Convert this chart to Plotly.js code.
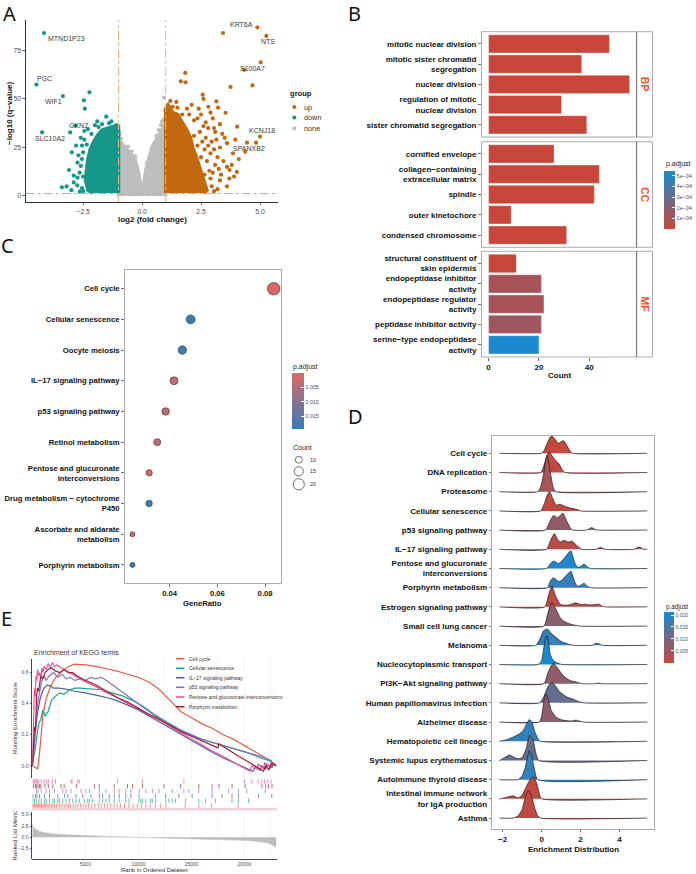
<!DOCTYPE html>
<html>
<head>
<meta charset="utf-8">
<script src="https://cdn.plot.ly/plotly-3.0.1.min.js"></script>
<style>
  html, body { margin: 0; padding: 0; background: #ffffff; }
  #fig { width: 696px; height: 874px; }
</style>
</head>
<body>
<div id="fig"></div>
<script>
// ================= A: volcano plot =================
const fcCutoff = 1;      // |log2 FC| threshold
const qCutoff = 1.3;     // -log10(0.05)

// dense, non-significant cloud (outline of the packed grey points)
const noneCoreX = [-1, -1, -0.85, -0.65, -0.45, -0.3, -0.15, -0.05, 0, 0.05, 0.15, 0.3, 0.45, 0.6, 0.75, 0.9, 1, 1];
const noneCoreY = [0, 29, 27, 24, 21.5, 19, 12, 4, 1, 4, 13, 20, 26, 29, 32.5, 35.5, 37, 0];
const nonePtsX = [0.93, 0.85, 0.95, -0.95, -0.9, -0.6, 0.6, 0.7, 0.8, -0.3, 0.2, -0.45, 0.4, 0.97, -0.98];
const nonePtsY = [50.7, 38.5, 40, 31.5, 29.5, 25.5, 31, 34, 36.5, 20.5, 17, 23, 24.5, 44, 33];

// down-regulated genes
const downCoreX = [-1, -1, -1.2, -1.45, -1.7, -1.9, -2.05, -2.2, -2.3, -2.35, -2.4, -2.3, -2.1];
const downCoreY = [1.5, 36, 36, 35, 34, 31, 28, 24, 19, 14, 8, 3, 1.5];
const downPtsX = [-2.23, -2.47, -2.43, -1.52, -1.1, -3.05, -2.98, -2.74, -3.1, -2.74, -2.9, -3.2, -3.0, -2.6, -2.55, -2.6, -2.45, -2.3, -2.0, -1.7, -1.3, -2.8, -2.7, -2.65, -2.9, -3.4, -2.55, -2.5, -2.45, -2.15, -1.85, -1.4, -2.55, -2.5, -2.75, -2.65, -2.35, -2.5, -1.9];
const downPtsY = [53.4, 49.3, 45, 40.9, 36.5, 32.8, 22.5, 17.2, 13.4, 9.5, 7, 5, 3, 15.5, 26, 30, 33.5, 34.5, 36.5, 37, 38.5, 26, 21, 12, 10.5, 4.5, 4, 2.5, 29, 32, 35.5, 37.5, 19, 10, 5.5, 2.2, 26.5, 22.5, 38.5];

// up-regulated genes
const upCoreX = [1, 1, 1.1, 1.3, 1.5, 1.7, 1.9, 2.05, 2.15, 2.3, 2.45, 2.6, 2.75, 2.6];
const upCoreY = [1.5, 45, 47, 43, 42, 38, 34, 30, 25, 20, 14, 8, 3, 1.5];
const upPtsX = [3.43, 4.33, 4.68, 3.75, 1.83, 1.64, 1.84, 2.57, 3.15, 2.81, 3.22, 3.54, 4.03, 3.6, 3.71, 4.02, 4.37, 2.6, 1.2, 1.45, 2.1, 2.9, 3.0, 2.5, 2.7, 3.3, 2.35, 3.1, 2.8, 3.5, 3.3, 2.95, 3.2, 3.45, 3.6, 3.8, 3.9, 3.0, 3.3, 3.6, 3.2, 2.9, 3.4, 2.6, 3.85, 4.1, 3.7, 2.4, 1.9, 2.2, 2.0, 3.95, 3.1, 3.35, 2.45, 2.55, 2.65, 2.75, 2.85, 2.9, 2.95, 2.5, 2.35, 2.2, 2.7, 2.8, 3.05, 3.15, 2.65, 3.05, 2.4, 1.7, 1.5, 1.3, 4.45, 3.05, 3.25];
const upPtsY = [84, 65, 57, 56.2, 63.4, 59.1, 58.6, 52.2, 48.8, 46, 45.5, 42.9, 35.7, 27.2, 13.4, 12.4, 22.8, 50, 49, 48.5, 47, 43, 40, 42, 38, 37, 40, 33, 35, 30, 25, 28, 20, 18, 15, 16, 10, 12, 8, 5, 3.5, 22, 32, 36, 22, 19, 9, 45, 45, 39, 42, 29, 16, 11, 33, 28, 24, 18, 13, 9, 5, 20, 26, 31, 30, 26, 24, 29, 11, 2.5, 4, 42, 45.5, 46, 27.5, 35, 14];

// labelled genes
const geneNames = ['MTND1P23', 'PGC', 'WIF1', 'GKN2', 'SLC10A2', 'KRT6A', 'NTS', 'S100A7', 'KCNJ18', 'SPANXB2'];
const geneX = [-4.16, -4.48, -3.36, -2.82, -4.24, 4.89, 5.27, 5.03, 5.0, 4.83];
const geneY = [84.0, 57.4, 51.5, 36.2, 32.8, 86.9, 82.5, 68.9, 30.6, 27.5];
const geneGroup = ['down', 'down', 'down', 'down', 'down', 'up', 'up', 'up', 'up', 'up'];

// ================= B: GO enrichment bars =================
const goTerms = [
  'mitotic nuclear division', 'mitotic sister chromatid<br>segregation', 'nuclear division',
  'regulation of mitotic<br>nuclear division', 'sister chromatid segregation',
  'cornified envelope', 'collagen−containing<br>extracellular matrix', 'spindle',
  'outer kinetochore', 'condensed chromosome',
  'structural constituent of<br>skin epidermis', 'endopeptidase inhibitor<br>activity',
  'endopeptidase regulator<br>activity', 'peptidase inhibitor activity',
  'serine−type endopeptidase<br>activity'
];
const goOntology = ['BP', 'BP', 'BP', 'BP', 'BP', 'CC', 'CC', 'CC', 'CC', 'CC', 'MF', 'MF', 'MF', 'MF', 'MF'];
const goCount = [48, 37, 56, 29, 39, 26, 44, 42, 9, 31, 11, 21, 22, 21, 20];
const goPadj = [2.1e-20, 6.5e-17, 3.4e-19, 1.2e-14, 8.8e-18, 4.1e-9, 2.2e-10, 5.6e-13, 1.3e-7, 3.0e-11, 3.4e-6, 1.05e-4, 1.0e-4, 1.3e-4, 5.4e-4];
const goPadjTicks = [1e-4, 2e-4, 3e-4, 4e-4, 5e-4];
const goPadjTickText = ['1e−04', '2e−04', '3e−04', '4e−04', '5e−04'];

// ================= C: KEGG dot plot =================
const keggTerms = [
  'Cell cycle', 'Cellular senescence', 'Oocyte meiosis', 'IL−17 signaling pathway',
  'p53 signaling pathway', 'Retinol metabolism', 'Pentose and glucuronate<br>interconversions',
  'Drug metabolism − cytochrome<br>P450', 'Ascorbate and aldarate<br>metabolism', 'Porphyrin metabolism'
];
const keggGeneRatio = [0.0836, 0.0488, 0.0453, 0.0418, 0.0383, 0.0348, 0.0314, 0.0314, 0.0244, 0.0244];
const keggCount = [24, 14, 13, 12, 11, 10, 9, 9, 7, 7];
const keggPadj = [0.0002, 0.0190, 0.0185, 0.0030, 0.0028, 0.0032, 0.0012, 0.0182, 0.0030, 0.0195];
const countLegend = [10, 15, 20];

// ================= D: GSEA ridge plot =================
const ridgeTerms = [
  'Cell cycle', 'DNA replication', 'Proteasome', 'Cellular senescence', 'p53 signaling pathway',
  'IL−17 signaling pathway', 'Pentose and glucuronate<br>interconversions', 'Porphyrin metabolism',
  'Estrogen signaling pathway', 'Small cell lung cancer', 'Melanoma', 'Nucleocytoplasmic transport',
  'PI3K−Akt signaling pathway', 'Human papillomavirus infection', 'Alzheimer disease',
  'Hematopoietic cell lineage', 'Systemic lupus erythematosus', 'Autoimmune thyroid disease',
  'Intestinal immune network<br>for IgA production', 'Asthma'
];
const ridgePadj = [0.0003, 0.001, 0.004, 0.0008, 0.0065, 0.002, 0.0212, 0.0185, 0.0012, 0.0075, 0.018, 0.0214, 0.007, 0.0125, 0.007, 0.0185, 0.0125, 0.0185, 0.0008, 0.001];
const densityFrom = -2.17;
const densityTo = 5.43;
const ridgeX = [
  [-0.02, 0.12, 0.3, 0.45, 0.53, 0.7, 0.87, 1.0, 1.12, 1.3, 1.45, 1.6],
  [-0.05, 0.1, 0.25, 0.39, 0.55, 0.75, 0.9, 1.05, 1.2],
  [-0.2, -0.05, 0.1, 0.2, 0.27, 0.35, 0.45, 0.6, 0.72],
  [-0.05, 0.15, 0.3, 0.41, 0.55, 0.75, 0.95, 1.15, 1.5, 1.8, 2.0],
  [0.2, 0.4, 0.61, 0.8, 0.95, 1.09, 1.3, 1.55, 2.3, 2.45, 2.57, 2.75, 2.9],
  [0.25, 0.45, 0.66, 0.8, 0.95, 1.17, 1.35, 1.58, 1.8, 2.06, 2.8, 3.03, 3.25, 4.75, 5.0, 5.25],
  [0.25, 0.45, 0.61, 0.87, 1.1, 1.3, 1.5, 1.7, 1.85, 2.0, 2.18, 2.35, 2.5],
  [0.3, 0.45, 0.61, 0.9, 1.1, 1.3, 1.51, 1.7, 1.85, 2.0, 2.18, 2.35, 2.5],
  [0.17, 0.35, 0.53, 0.7, 0.95, 1.2, 1.5, 1.75, 2.0, 2.25, 2.5, 2.75, 2.94, 3.1, 3.25],
  [0.12, 0.3, 0.45, 0.53, 0.7, 0.95, 1.1, 1.35, 1.6, 1.95],
  [-0.3, -0.1, 0.1, 0.3, 0.5, 0.75, 1.0, 1.3, 1.6, 2.6, 2.8, 2.95, 3.1],
  [-0.17, 0.0, 0.12, 0.22, 0.27, 0.35, 0.45, 0.6, 0.8, 1.05],
  [0.12, 0.3, 0.5, 0.61, 0.8, 1.0, 1.25, 1.5, 1.8, 2.06, 2.75, 2.9, 3.05],
  [-0.1, 0.1, 0.35, 0.53, 0.7, 0.9, 1.3, 1.6, 1.9, 2.15],
  [-0.12, 0.0, 0.12, 0.24, 0.35, 0.5, 0.75, 1.0, 1.3, 1.55, 1.77, 1.95, 2.15],
  [-2.16, -1.8, -1.5, -1.2, -0.95, -0.8, -0.63, -0.5, -0.35, -0.2, -0.07],
  [-2.16, -1.9, -1.65, -1.4, -1.2, -1.0, -0.8, -0.61, -0.45, -0.3, -0.15],
  [-1.2, -1.0, -0.85, -0.72, -0.63, -0.5, -0.35, -0.2],
  [-2.1, -1.8, -1.48, -1.2, -1.0, -0.8, -0.6, -0.41, -0.25, -0.1, 0.0],
  [-1.45, -1.2, -1.0, -0.85, -0.68, -0.5, -0.35, -0.2, -0.05]
];
const ridgeH = [
  [0, 0.12, 0.55, 0.85, 0.9, 0.72, 0.52, 0.6, 0.66, 0.4, 0.12, 0],
  [0, 0.3, 0.8, 1.08, 0.85, 0.6, 0.45, 0.15, 0],
  [0, 0.25, 0.9, 1.6, 1.89, 1.6, 1.0, 0.2, 0],
  [0, 0.4, 0.85, 1.0, 0.7, 0.3, 0.35, 0.25, 0.14, 0.08, 0],
  [0, 0.4, 0.76, 0.64, 0.75, 0.89, 0.45, 0.02, 0, 0.06, 0.13, 0.03, 0],
  [0, 0.45, 0.82, 0.55, 0.38, 0.47, 0.38, 0.42, 0.2, 0, 0, 0.1, 0, 0, 0.12, 0],
  [0, 0.25, 0.38, 0.26, 0.45, 0.7, 0.92, 0.3, 0.06, 0.1, 0.23, 0.08, 0],
  [0, 0.35, 0.52, 0.31, 0.45, 0.68, 0.85, 0.3, 0.06, 0.12, 0.23, 0.08, 0],
  [0, 0.6, 1.09, 0.6, 0.14, 0.08, 0.12, 0.21, 0.12, 0.14, 0.1, 0.12, 0.14, 0.05, 0],
  [0, 0.6, 1.1, 1.22, 0.95, 0.45, 0.28, 0.15, 0.07, 0],
  [0, 0.3, 0.75, 0.85, 0.62, 0.4, 0.2, 0.08, 0, 0, 0.1, 0.08, 0],
  [0, 0.2, 0.9, 1.4, 1.5, 1.2, 0.5, 0.2, 0.08, 0],
  [0, 0.5, 0.95, 1.04, 0.85, 0.55, 0.3, 0.15, 0.08, 0, 0, 0.03, 0],
  [0, 0.3, 0.9, 1.06, 0.9, 0.6, 0.3, 0.2, 0.07, 0],
  [0, 0.3, 1.1, 1.46, 1.15, 0.6, 0.25, 0.12, 0.07, 0.06, 0.1, 0.05, 0],
  [0, 0.08, 0.2, 0.35, 0.55, 0.85, 1.13, 1.0, 0.5, 0.15, 0],
  [0, 0.15, 0.28, 0.15, 0.09, 0.15, 0.6, 1.3, 1.1, 0.4, 0],
  [0, 0.2, 0.6, 1.2, 1.51, 1.2, 0.45, 0],
  [0, 0.08, 0.16, 0.05, 0.2, 0.6, 1.0, 1.15, 0.8, 0.2, 0],
  [0, 0.12, 0.45, 1.05, 1.42, 1.1, 0.5, 0.12, 0]
];

// ================= E: GSEA running enrichment =================
const gseaSets = ['Cell cycle', 'Cellular senescence', 'IL−17 signaling pathway', 'p53 signaling pathway', 'Pentose and glucuronate interconversions', 'Porphyrin metabolism'];

const esCellCycleRank = [0, 300, 500, 650, 800, 1000, 1300, 1700, 2200, 2800, 3400, 4000, 5000, 6000, 7000, 8000, 9000, 10000, 11000, 12000, 13000, 14000, 15000, 16000, 17000, 18000, 19000, 20000, 21000, 22000, 22700, 23000];
const esCellCycleScore = [0, -0.01, -0.02, 0.06, 0.2, 0.33, 0.43, 0.51, 0.57, 0.61, 0.64, 0.655, 0.65, 0.64, 0.625, 0.61, 0.59, 0.57, 0.54, 0.49, 0.42, 0.35, 0.31, 0.27, 0.24, 0.2, 0.17, 0.13, 0.095, 0.05, 0.02, 0.0];
const esSenescenceRank = [0, 150, 300, 450, 600, 800, 1000, 1200, 1500, 1800, 2200, 2600, 3000, 3500, 4000, 4500, 5500, 6500, 7500, 8500, 9500, 10500, 11500, 12500, 13500, 14500, 15500, 16500, 17500, 18500, 19500, 20500, 21500, 22000, 22500];
const esSenescenceScore = [0, 0.05, 0.12, 0.2, 0.27, 0.3, 0.36, 0.32, 0.35, 0.42, 0.45, 0.47, 0.46, 0.49, 0.5, 0.5, 0.495, 0.49, 0.47, 0.45, 0.42, 0.38, 0.33, 0.29, 0.25, 0.21, 0.18, 0.16, 0.14, 0.12, 0.1, 0.08, 0.05, 0.04, 0.03];
const esIL17Rank = [0, 100, 250, 400, 550, 700, 900, 1100, 1400, 1700, 2000, 2500, 3000, 3500, 4000, 5000, 6000, 7000, 8000, 9000, 10000, 11000, 12000, 13000, 14000, 15000, 16000, 17000, 18000, 19000, 20000, 20800, 21000, 21500, 21600, 22000, 22100, 22600, 22700, 23000];
const esIL17Score = [0, 0.08, 0.18, 0.3, 0.36, 0.42, 0.47, 0.5, 0.52, 0.515, 0.5, 0.5, 0.495, 0.49, 0.48, 0.47, 0.455, 0.44, 0.42, 0.39, 0.36, 0.32, 0.28, 0.24, 0.2, 0.16, 0.12, 0.085, 0.05, 0.02, -0.01, -0.035, -0.01, -0.03, 0.0, -0.02, 0.01, -0.01, 0.01, 0.0];
const esP53Rank = [0, 150, 300, 500, 700, 900, 1100, 1300, 1600, 2000, 2400, 2800, 3200, 3600, 4000, 4500, 5000, 5500, 6000, 6500, 7000, 8000, 9000, 10000, 11000, 12000, 13000, 14000, 15000, 16000, 17000, 18000, 19000, 20000, 21000, 22000, 22600];
const esP53Score = [0, 0.1, 0.25, 0.4, 0.48, 0.55, 0.58, 0.55, 0.58, 0.6, 0.57, 0.59, 0.56, 0.57, 0.55, 0.56, 0.55, 0.57, 0.56, 0.57, 0.55, 0.5, 0.45, 0.4, 0.35, 0.3, 0.26, 0.23, 0.2, 0.17, 0.15, 0.13, 0.11, 0.09, 0.07, 0.05, 0.03];
const esPentoseRank = [0, 80, 150, 200, 280, 350, 420, 500, 600, 700, 800, 900, 1000, 1100, 1300, 1500, 1700, 1900, 2100, 2300, 3000, 4000, 5000, 6000, 7000, 8000, 9000, 10000, 11000, 12000, 13000, 14000, 15000, 16000, 17000, 18000, 19000, 20000, 20500, 20700, 21200, 21300, 21800, 21900, 22400, 22500, 23000];
const esPentoseScore = [0, 0.2, 0.35, 0.5, 0.45, 0.58, 0.55, 0.62, 0.58, 0.6, 0.56, 0.63, 0.6, 0.64, 0.62, 0.66, 0.63, 0.665, 0.64, 0.65, 0.62, 0.58, 0.54, 0.51, 0.47, 0.44, 0.4, 0.37, 0.33, 0.29, 0.25, 0.21, 0.17, 0.13, 0.095, 0.06, 0.02, -0.02, -0.035, 0.0, -0.02, 0.01, -0.02, 0.02, -0.01, 0.02, 0.0];
const esPorphyrinRank = [0, 100, 200, 300, 400, 500, 600, 800, 1000, 1200, 1500, 1800, 2200, 2600, 3000, 3400, 3800, 4200, 5000, 6000, 7000, 8000, 9000, 10000, 11000, 12000, 13000, 14000, 15000, 16000, 17000, 17500, 17600, 18500, 19500, 20500, 21500, 21800, 22000, 22300, 22600, 23000];
const esPorphyrinScore = [0, 0.1, 0.25, 0.22, 0.45, 0.5, 0.48, 0.58, 0.56, 0.6, 0.62, 0.63, 0.61, 0.6, 0.62, 0.6, 0.6, 0.58, 0.55, 0.52, 0.48, 0.44, 0.41, 0.37, 0.33, 0.3, 0.26, 0.22, 0.19, 0.16, 0.13, 0.115, 0.14, 0.1, 0.06, 0.02, -0.02, -0.035, 0.0, -0.025, 0.015, 0.0];

// positions of gene-set members in the ranked list
const hitsCellCycle = [60, 150, 250, 330, 420, 520, 610, 700, 800, 900, 1000, 1120, 1250, 1380, 1500, 1650, 1800, 1950, 2100, 2250, 2400, 2600, 2800, 3000, 3200, 3400, 3600, 3850, 4100, 4300, 4550, 4800, 5050, 5300, 5600, 5900, 6200, 6500, 6800, 7100, 7400, 7700, 8000, 8300, 8700, 9100, 9500, 9900, 10300, 10700, 11100, 11600, 12100, 12600, 14400, 15700, 16900, 19400];
const hitsSenescence = [60, 216, 373, 623, 842, 1154, 1311, 1624, 1936, 2093, 2405, 2562, 2874, 3187, 3500, 3812, 4125, 4438, 4907, 5220, 5376, 5689, 6314, 6627, 6939, 7252, 7721, 8190, 8816, 9128, 10066, 10223, 10379, 10692, 11161, 11317, 11630, 12568, 12881, 13193, 13506, 14444, 15695, 16320, 17259, 18822, 19447, 20385];
const hitsIL17 = [60, 310, 435, 685, 1154, 1624, 2405, 3031, 3343, 4125, 4751, 5532, 6314, 6627, 7252, 7721, 8190, 8816, 9285, 10066, 11630, 12568, 13819, 15070, 16946, 17884, 18822, 19447, 21323, 22575];
const hitsP53 = [373, 529, 842, 1311, 1624, 2093, 2874, 3187, 3656, 4594, 5063, 5376, 6314, 6939, 7721, 8190, 8816, 9285, 10066, 10692, 11317, 11943, 13193, 14288, 14757, 15695, 16946, 18510, 19447, 20229, 21949];
const hitsPentose = [80, 150, 216, 350, 420, 500, 622, 841, 1100, 1310, 1500, 1900, 2185, 3655, 3750, 4280, 4435, 8030, 10380, 14290, 20010, 20700, 21300, 21640, 21900, 22200, 22500];
const hitsPorphyrin = [100, 300, 372, 528, 684, 800, 1200, 1500, 1935, 2717, 3000, 4187, 5844, 6313, 7720, 8970, 9440, 10380, 12410, 13980, 15700, 16950, 17600, 18830, 20070, 21640, 22000, 22270, 22600];

// ranked list metric
const metricRank = [0, 100, 300, 600, 1000, 1500, 2000, 3000, 4000, 5000, 6000, 7000, 8000, 9000, 10000, 11000, 12000, 13000, 14000, 15000, 16000, 17000, 18000, 19000, 20000, 21000, 21500, 22000, 22400, 22700, 22900, 23000];
const metricValue = [3.0, 2.3, 1.8, 1.4, 1.1, 0.9, 0.75, 0.58, 0.45, 0.35, 0.27, 0.2, 0.13, 0.07, 0.02, -0.03, -0.08, -0.13, -0.18, -0.24, -0.3, -0.37, -0.45, -0.55, -0.66, -0.82, -0.95, -1.15, -1.4, -1.7, -2.0, -2.1];

// ================= drawing =================
const W = 696, H = 874;
const FONT = 'Liberation Sans, Arial, Helvetica, sans-serif';
const px = v => v / W;
const py = v => 1 - v / H;
const hdom = (l, r) => [px(l), px(r)];
const vdom = (t, b) => [py(b), py(t)];

const COL = { up: '#c2690f', down: '#15978a', none: '#bebebe' };
const RED_BD = '#c8473a', BLUE_BD = '#1a8acf';
const RED_C = '#e06663', BLUE_C = '#327eba';
const PANEL_LINE = '#a3a3a3';

function hex2rgb(h) { return [1, 3, 5].map(i => parseInt(h.slice(i, i + 2), 16)); }
function mix(a, b, t) {
  const A = hex2rgb(a), B = hex2rgb(b);
  return 'rgb(' + A.map((v, i) => Math.round(v + (B[i] - v) * t)).join(',') + ')';
}

const traces = [];
const shapes = [];
const annotations = [];

function note(text, x, y, o) {
  const a = { text: text, x: px(x), y: py(y), xref: 'paper', yref: 'paper', showarrow: false,
    xanchor: 'center', yanchor: 'middle', font: { family: FONT, size: 7, color: '#1a1a1a' } };
  return Object.assign(a, o || {});
}

// ---------- A ----------
function cloud(xs, ys, color) {
  traces.push({ type: 'scatter', mode: 'lines', x: xs, y: ys, fill: 'toself', fillcolor: color,
    line: { color: color, width: 3.5 }, xaxis: 'x', yaxis: 'y', hoverinfo: 'skip' });
}
function dots(xs, ys, color) {
  traces.push({ type: 'scatter', mode: 'markers', x: xs, y: ys, xaxis: 'x', yaxis: 'y',
    marker: { size: 4.2, color: color }, hoverinfo: 'skip' });
}
cloud(noneCoreX, noneCoreY, COL.none);
dots(nonePtsX, nonePtsY, COL.none);
cloud(downCoreX, downCoreY, COL.down);
dots(downPtsX, downPtsY, COL.down);
cloud(upCoreX, upCoreY, COL.up);
dots(upPtsX, upPtsY, COL.up);
dots(geneX, geneY, geneGroup.map(g => COL[g]));

// threshold lines
[-fcCutoff, fcCutoff].forEach(v => shapes.push({ type: 'line', xref: 'x', yref: 'y domain', x0: v, x1: v, y0: 0, y1: 1,
  line: { color: '#f6b26b', width: 1, dash: 'dashdot' } }));
shapes.push({ type: 'line', xref: 'x domain', yref: 'y', x0: 0, x1: 1, y0: qCutoff, y1: qCutoff,
  line: { color: '#f39a7c', width: 1, dash: 'dashdot' } });

// gene labels
const geneLabelStyle = {
  MTND1P23: { xanchor: 'left', xshift: 2, yshift: -5 },
  PGC: { xanchor: 'left', xshift: -1, yshift: 6 },
  WIF1: { xanchor: 'right', xshift: 1, yshift: -5 },
  GKN2: { xanchor: 'center', xshift: 3, yshift: 0 },
  SLC10A2: { xanchor: 'center', xshift: 8, yshift: -6 },
  KRT6A: { xanchor: 'right', xshift: -2, yshift: 3 },
  NTS: { xanchor: 'center', xshift: 2, yshift: -6 },
  S100A7: { xanchor: 'center', xshift: -8, yshift: -6 },
  KCNJ18: { xanchor: 'center', xshift: 2, yshift: 6 },
  SPANXB2: { xanchor: 'center', xshift: -7, yshift: -6 }
};
geneNames.forEach((g, i) => {
  const s = geneLabelStyle[g];
  annotations.push({ text: g, x: geneX[i], y: geneY[i], xref: 'x', yref: 'y', showarrow: false,
    xanchor: s.xanchor, yanchor: 'middle', xshift: s.xshift, yshift: s.yshift,
    font: { family: FONT, size: 7, color: '#3a3a3a' } });
});

// legend "group"
annotations.push(note('<b>group</b>', 290, 94, { xanchor: 'left', font: { family: FONT, size: 7.6, color: '#1a1a1a' } }));
['up', 'down', 'none'].forEach((g, k) => {
  const yy = [107, 117.5, 128.5][k];
  shapes.push({ type: 'circle', xref: 'paper', yref: 'paper', x0: px(293.9), x1: px(298.1), y0: py(yy + 2.1), y1: py(yy - 2.1),
    fillcolor: COL[g], line: { width: 0 } });
  annotations.push(note(g, 304, yy, { xanchor: 'left', font: { family: FONT, size: 7.3, color: '#333' } }));
});

// ---------- B ----------
const facets = ['BP', 'CC', 'MF'];
const facetBox = [{ t: 31.7, b: 137 }, { t: 141.7, b: 247.3 }, { t: 251.3, b: 357 }];
const bPlotL = 484.3, bPlotR = 640.3, bStripR = 656.3;
const facetY = ['y2', 'y3', 'y4'];
facets.forEach((ont, k) => {
  const idx = goOntology.map((o, i) => (o === ont ? i : -1)).filter(i => i >= 0);
  traces.push({ type: 'bar', orientation: 'h', x: idx.map(i => goCount[i]), y: idx.map(i => goTerms[i]),
    xaxis: 'x2', yaxis: facetY[k], width: 0.9,
    marker: { color: idx.map(i => goPadj[i]), coloraxis: 'coloraxis', line: { color: 'rgba(255,255,255,0.6)', width: 0.6 } },
    hoverinfo: 'skip' });
  const fb = facetBox[k];
  shapes.push({ type: 'rect', xref: 'paper', yref: 'paper', x0: px(bPlotL), x1: px(bStripR), y0: py(fb.b), y1: py(fb.t),
    line: { color: PANEL_LINE, width: 0.9 }, fillcolor: 'rgba(0,0,0,0)' });
  shapes.push({ type: 'line', xref: 'paper', yref: 'paper', x0: px(bPlotR), x1: px(bPlotR), y0: py(fb.b), y1: py(fb.t),
    line: { color: '#555', width: 0.9 } });
  annotations.push(note('<b>' + ont + '</b>', 648.3, (fb.t + fb.b) / 2,
    { textangle: 90, font: { family: FONT, size: 10.5, color: '#f4511e' } }));
});

// ---------- C ----------
const cMin = Math.min(...keggCount), cMax = Math.max(...keggCount);
function sizeScale(c) {
  const t = (c - cMin) / (cMax - cMin);
  return Math.sqrt(5 * 5 + t * (12.5 * 12.5 - 5 * 5));
}
traces.push({ type: 'scatter', mode: 'markers', x: keggGeneRatio, y: keggTerms, xaxis: 'x3', yaxis: 'y5',
  marker: { size: keggCount.map(sizeScale), color: keggPadj.map(v => -v), coloraxis: 'coloraxis2',
    line: { color: '#2b2b2b', width: 0.6 }, opacity: 1 },
  hoverinfo: 'skip' });
annotations.push(note('Count', 293, 447.3, { xanchor: 'left', font: { family: FONT, size: 7, color: '#1a1a1a' } }));
countLegend.forEach((c, k) => {
  const yy = [459.7, 471.3, 484.3][k];
  const d = sizeScale(c);
  shapes.push({ type: 'circle', xref: 'paper', yref: 'paper', x0: px(300.5 - d / 2), x1: px(300.5 + d / 2),
    y0: py(yy + d / 2), y1: py(yy - d / 2), line: { color: '#333', width: 0.7 }, fillcolor: 'rgba(0,0,0,0)' });
  annotations.push(note(String(c), 310, yy, { xanchor: 'left', font: { family: FONT, size: 5.5, color: '#333' } }));
});

// ---------- D ----------
const nR = ridgeTerms.length;
const padjMax = 0.0214, padjMin = 0.00004;
const ridgeColor = p => mix(RED_BD, BLUE_BD, (p - padjMin) / (padjMax - padjMin));
ridgeTerms.forEach((term, i) => {
  const base = nR - i;
  const xs = [densityFrom].concat(ridgeX[i], [densityTo]);
  const ys = [0].concat(ridgeH[i], [0]).map(h => base + h);
  traces.push({ type: 'scatter', mode: 'lines', x: xs, y: ys, xaxis: 'x4', yaxis: 'y6',
    fill: 'toself', fillcolor: ridgeColor(ridgePadj[i]),
    line: { color: '#1a1a1a', width: 0.7, shape: 'spline', smoothing: 0.5 }, hoverinfo: 'skip' });
});
// carries the p.adjust colour scale for the ridges
traces.push({ type: 'scatter', mode: 'markers', x: [densityFrom], y: [nR], xaxis: 'x4', yaxis: 'y6',
  marker: { size: 1, opacity: 0, color: [ridgePadj[0]], coloraxis: 'coloraxis3' }, hoverinfo: 'skip' });

// ---------- E ----------
const gseaColors = ['#ee5a3f', '#1ba689', '#4e5fa6', '#7f70cb', '#f0519c', '#a4202e'];
const esRanks = [esCellCycleRank, esSenescenceRank, esIL17Rank, esP53Rank, esPentoseRank, esPorphyrinRank];
const esScores = [esCellCycleScore, esSenescenceScore, esIL17Score, esP53Score, esPentoseScore, esPorphyrinScore];
const hits = [hitsCellCycle, hitsSenescence, hitsIL17, hitsP53, hitsPentose, hitsPorphyrin];
const hitRow = [0, 1, 2, 3, 5, 4];

gseaSets.forEach((s, i) => {
  traces.push({ type: 'scatter', mode: 'lines', x: esRanks[i], y: esScores[i], xaxis: 'x5', yaxis: 'y7',
    line: { color: gseaColors[i], width: 1.2 }, hoverinfo: 'skip' });
  const hx = [], hy = [];
  hits[i].forEach(r => { hx.push(r, r, null); hy.push(hitRow[i] - 0.45, hitRow[i] + 0.45, null); });
  traces.push({ type: 'scatter', mode: 'lines', x: hx, y: hy, xaxis: 'x6', yaxis: 'y8',
    line: { color: gseaColors[i], width: 0.9 }, opacity: 0.75, hoverinfo: 'skip' });
  // legend
  const ly = [658.7, 668.3, 677.7, 687.3, 697, 706.7][i];
  shapes.push({ type: 'line', xref: 'paper', yref: 'paper', x0: px(177), x1: px(185.5), y0: py(ly), y1: py(ly),
    line: { color: gseaColors[i], width: 1.6 } });
  annotations.push(note(s, 188.5, ly, { xanchor: 'left', font: { family: FONT, size: 5, color: '#333' } }));
});
traces.push({ type: 'scatter', mode: 'lines', x: metricRank, y: metricValue, xaxis: 'x7', yaxis: 'y9',
  fill: 'tozeroy', fillcolor: '#bdbdbd', line: { color: '#b3b3b3', width: 0.5 }, hoverinfo: 'skip' });
shapes.push({ type: 'rect', xref: 'paper', yref: 'paper', x0: px(32.5), x1: px(278.3), y0: py(810.3), y1: py(808.2),
  fillcolor: '#f7c3d7', line: { width: 0 } });

// ---------- titles & panel letters ----------
const letter = { family: 'Noto Sans, DejaVu Sans, sans-serif', size: 20, color: '#111' };
annotations.push(note('A', 10, 13, { font: letter }));
annotations.push(note('B', 357, 13, { font: letter }));
annotations.push(note('C', 7.5, 246, { font: letter }));
annotations.push(note('D', 358, 416, { font: letter }));
annotations.push(note('E', 6.5, 618, { font: letter }));

const bold8 = { family: FONT, size: 8, color: '#111' };
annotations.push(note('<b>−log10 (q−value)</b>', 10, 113, { textangle: -90, font: bold8 }));
annotations.push(note('<b>log2 (fold change)</b>', 153, 219, { font: bold8 }));
annotations.push(note('<b>Count</b>', 563, 375, { font: bold8 }));
annotations.push(note('<b>GeneRatio</b>', 204, 603, { font: { family: FONT, size: 7.7, color: '#111' } }));
annotations.push(note('<b>Enrichment Distribution</b>', 576.7, 849.5, { font: bold8 }));
annotations.push(note('p.adjust', 668, 163.5, { xanchor: 'left', font: { family: FONT, size: 7, color: '#1a1a1a' } }));
annotations.push(note('p.adjust', 293, 366.7, { xanchor: 'left', font: { family: FONT, size: 7, color: '#1a1a1a' } }));
annotations.push(note('p.adjust', 668, 606.7, { xanchor: 'left', font: { family: FONT, size: 6.3, color: '#1a1a1a' } }));
annotations.push(note('Enrichment of KEGG terms', 32, 652, { xanchor: 'left', font: { family: FONT, size: 7, color: '#333' } }));
annotations.push(note('Running Enrichment Score', 15, 718, { textangle: -90, font: { family: FONT, size: 6, color: '#333' } }));
annotations.push(note('Ranked List Metric', 15, 835.5, { textangle: -90, font: { family: FONT, size: 6, color: '#333' } }));
annotations.push(note('Rank in Ordered Dataset', 155, 870.3, { font: { family: FONT, size: 6, color: '#333' } }));

// ---------- axes ----------
const ax = {
  showgrid: false, zeroline: false, fixedrange: true, showline: false, automargin: false,
  ticks: 'outside', ticklen: 2.5, tickwidth: 0.7, tickcolor: '#333'
};
const greyTick = { family: FONT, size: 6.8, color: '#4d4d4d' };
const boldTick = { family: FONT, size: 8, color: '#111', weight: 'bold' };
const tinyTick = { family: FONT, size: 5, color: '#4d4d4d' };
const gseaGrid = [2500, 5000, 7500, 10000, 12500, 15000, 17500, 20000, 22500];
const gseaGridText = ['', '5000', '', '10000', '', '15000', '', '20000', ''];
const gseaX = {
  ...ax, domain: hdom(32.5, 278.3), range: [0, 23040], tickmode: 'array', tickvals: gseaGrid,
  showgrid: true, gridcolor: '#ececec', gridwidth: 0.6, ticks: ''
};

const layout = {
  width: W, height: H, margin: { l: 0, r: 0, t: 0, b: 0, pad: 0 },
  paper_bgcolor: '#ffffff', plot_bgcolor: 'rgba(0,0,0,0)', showlegend: false,
  font: { family: FONT, color: '#1a1a1a' },
  bargap: 0,
  // A
  xaxis: { ...ax, domain: hdom(26, 280), range: [-4.93, 5.78], anchor: 'y', tickmode: 'array',
    tickvals: [-2.5, 0, 2.5, 5], ticktext: ['−2.5', '0.0', '2.5', '5.0'], tickfont: greyTick,
    showline: true, linecolor: '#1a1a1a', linewidth: 0.9 },
  yaxis: { ...ax, domain: vdom(20, 202), range: [-3.1, 90.7], anchor: 'x', tickmode: 'array',
    tickvals: [0, 25, 50, 75], ticktext: ['0', '25', '50', '75'], tickfont: greyTick,
    showline: true, linecolor: '#1a1a1a', linewidth: 0.9 },
  // B
  xaxis2: { ...ax, domain: hdom(bPlotL, bPlotR), range: [-2.8, 58.8], anchor: 'y4', tickmode: 'array',
    tickvals: [0, 20, 40], ticktext: ['0', '20', '40'], tickfont: boldTick },
  yaxis2: { ...ax, domain: vdom(facetBox[0].t, facetBox[0].b), anchor: 'x2', type: 'category',
    categoryorder: 'array', categoryarray: goTerms.slice(0, 5), range: [4.6, -0.6], tickfont: boldTick },
  yaxis3: { ...ax, domain: vdom(facetBox[1].t, facetBox[1].b), anchor: 'x2', type: 'category',
    categoryorder: 'array', categoryarray: goTerms.slice(5, 10), range: [4.6, -0.6], tickfont: boldTick },
  yaxis4: { ...ax, domain: vdom(facetBox[2].t, facetBox[2].b), anchor: 'x2', type: 'category',
    categoryorder: 'array', categoryarray: goTerms.slice(10, 15), range: [4.6, -0.6], tickfont: boldTick },
  // C
  xaxis3: { ...ax, domain: hdom(125.3, 282.7), range: [0.0211, 0.0867], anchor: 'y5', tickmode: 'array',
    tickvals: [0.04, 0.06, 0.08], ticktext: ['0.04', '0.06', '0.08'],
    tickfont: { ...boldTick, size: 7.7 }, showline: true, mirror: true, linecolor: PANEL_LINE, linewidth: 0.9 },
  yaxis5: { ...ax, domain: vdom(270.3, 583.3), anchor: 'x3', type: 'category', categoryorder: 'array',
    categoryarray: keggTerms, range: [9.6, -0.6], tickfont: { ...boldTick, size: 7.7 },
    showline: true, mirror: true, linecolor: PANEL_LINE, linewidth: 0.9 },
  // D
  xaxis4: { ...ax, domain: hdom(495, 658.3), range: [-2.54, 5.8], anchor: 'y6', tickmode: 'array',
    tickvals: [-2, 0, 2, 4], ticktext: ['−2', '0', '2', '4'], tickfont: boldTick,
    showline: true, mirror: true, linecolor: PANEL_LINE, linewidth: 0.9 },
  yaxis6: { ...ax, domain: vdom(436, 829), range: [0.43, 20.9], anchor: 'x4', tickmode: 'array',
    tickvals: ridgeTerms.map((t, i) => nR - i), ticktext: ridgeTerms, tickfont: boldTick,
    showline: true, mirror: true, linecolor: PANEL_LINE, linewidth: 0.9 },
  // E
  xaxis5: { ...gseaX, anchor: 'y7', showticklabels: false },
  yaxis7: { ...ax, domain: vdom(659, 777.7), range: [-0.077, 0.688], anchor: 'x5', tickmode: 'array',
    tickvals: [0, 0.2, 0.4, 0.6], ticktext: ['0.0', '0.2', '0.4', '0.6'], tickfont: tinyTick, ticklen: 2,
    showline: true, linecolor: '#1a1a1a', linewidth: 0.8 },
  xaxis6: { ...ax, domain: hdom(32.5, 278.3), range: [0, 23040], anchor: 'y8', visible: false },
  yaxis8: { ...ax, domain: vdom(779, 808), range: [-0.5, 5.5], anchor: 'x6', visible: false },
  xaxis7: { ...gseaX, anchor: 'y9', ticktext: gseaGridText, tickfont: tinyTick,
    showline: true, linecolor: '#1a1a1a', linewidth: 0.8 },
  yaxis9: { ...ax, domain: vdom(811.7, 859), range: [-4.77, 5.66], anchor: 'x7', tickmode: 'array',
    tickvals: [-2.5, 0, 2.5, 5], ticktext: ['−2.5', '0.0', '2.5', '5.0'], tickfont: tinyTick, ticklen: 2,
    showline: true, linecolor: '#1a1a1a', linewidth: 0.8 },
  // colour scales
  coloraxis: {
    colorscale: [[0, RED_BD], [1, BLUE_BD]], cmin: 0, cmax: 5.45e-4,
    colorbar: { x: px(668), xanchor: 'left', y: py(171), yanchor: 'top', len: 58, lenmode: 'pixels',
      thickness: 11, thicknessmode: 'pixels', xpad: 0, ypad: 0, outlinewidth: 0,
      tickmode: 'array', tickvals: goPadjTicks, ticktext: goPadjTickText, ticks: 'inside', ticklen: 3,
      tickcolor: '#ffffff', tickfont: { family: FONT, size: 5.5, color: '#4d4d4d' } }
  },
  coloraxis2: {
    colorscale: [[0, BLUE_C], [1, RED_C]], cmin: -0.0195, cmax: -0.0002,
    colorbar: { x: px(293.3), xanchor: 'left', y: py(373.3), yanchor: 'top', len: 56, lenmode: 'pixels',
      thickness: 11.7, thicknessmode: 'pixels', xpad: 0, ypad: 0, outlinewidth: 0,
      tickmode: 'array', tickvals: [-0.015, -0.01, -0.005], ticktext: ['0.015', '0.010', '0.005'],
      ticks: 'inside', ticklen: 3, tickcolor: '#ffffff', tickfont: { family: FONT, size: 5.3, color: '#4d4d4d' } }
  },
  coloraxis3: {
    colorscale: [[0, RED_BD], [1, BLUE_BD]], cmin: padjMin, cmax: padjMax,
    colorbar: { x: px(668.3), xanchor: 'left', y: py(611.7), yanchor: 'top', len: 50.6, lenmode: 'pixels',
      thickness: 10, thicknessmode: 'pixels', xpad: 0, ypad: 0, outlinewidth: 0,
      tickmode: 'array', tickvals: [0.005, 0.01, 0.015, 0.02], ticktext: ['0.005', '0.010', '0.015', '0.020'],
      ticks: 'inside', ticklen: 3, tickcolor: '#ffffff', tickfont: { family: FONT, size: 5, color: '#4d4d4d' } }
  },
  shapes: shapes,
  annotations: annotations
};

Plotly.newPlot('fig', traces, layout, { staticPlot: true, displayModeBar: false });
</script>
</body>
</html>
